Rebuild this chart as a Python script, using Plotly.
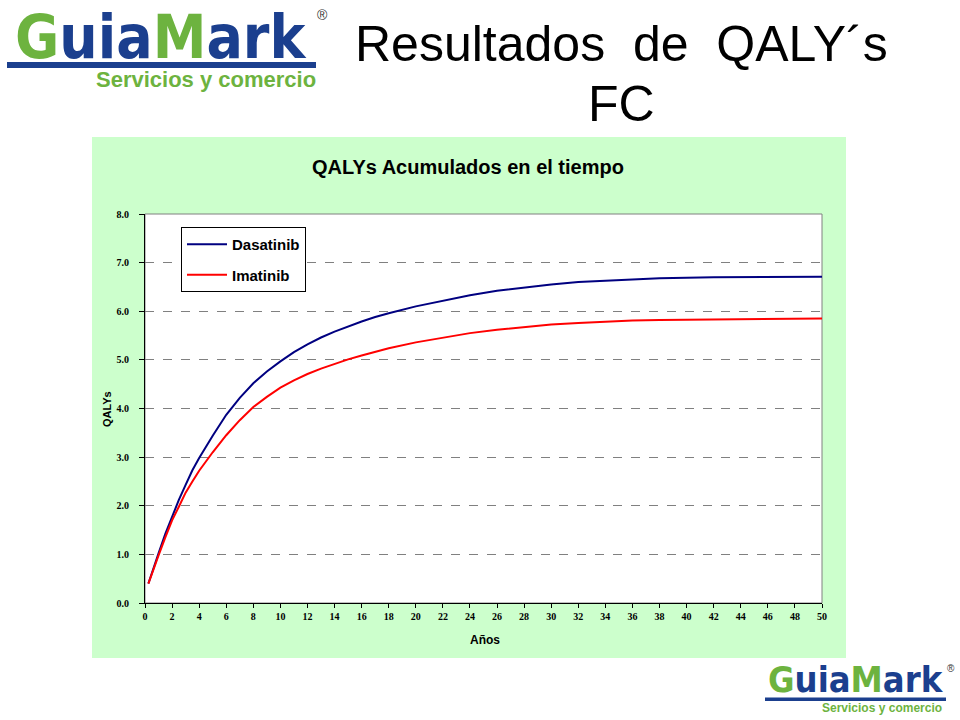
import plotly.graph_objects as go

# ---------------- data ----------------
years = [0.25, 0.5, 1, 1.5, 2, 2.5, 3, 3.5, 4, 5, 6, 7, 8, 9, 10, 11, 12, 13, 14,
         15, 16, 17, 18, 20, 22, 24, 26, 28, 30, 32, 34, 36, 38, 42, 46, 50]
dasatinib = [0.40, 0.62, 1.02, 1.42, 1.78, 2.12, 2.43, 2.73, 2.98, 3.44, 3.87,
             4.22, 4.52, 4.76, 4.97, 5.16, 5.32, 5.46, 5.58, 5.69, 5.79, 5.88,
             5.96, 6.10, 6.22, 6.33, 6.42, 6.49, 6.55, 6.60, 6.63, 6.66, 6.68,
             6.70, 6.71, 6.71]
imatinib = [0.40, 0.60, 0.98, 1.35, 1.70, 1.98, 2.27, 2.50, 2.72, 3.10, 3.45,
            3.76, 4.03, 4.24, 4.43, 4.58, 4.71, 4.82, 4.92, 5.01, 5.09, 5.17,
            5.24, 5.36, 5.46, 5.55, 5.62, 5.68, 5.73, 5.76, 5.79, 5.81, 5.82,
            5.83, 5.84, 5.85]
series_names = ["Dasatinib", "Imatinib"]
series_colors = ["#000080", "#FF0000"]
x_ticks = list(range(0, 51, 2))
y_ticks = [i * 1.0 for i in range(0, 9)]

# ---------------- layout geometry ----------------
W, H = 960, 720
L, R, T, B = 145, 822, 214, 603
PW, PH = R - L, B - T


def px(x):
    return (x - L) / PW


def py(y):
    return (B - y) / PH


fig = go.Figure()
for name, vals, col, grp in zip(series_names, [dasatinib, imatinib], series_colors, ["a", "b"]):
    fig.add_trace(go.Scatter(x=years, y=vals, mode="lines", name=name,
                             legendgroup=grp,
                             line=dict(color=col, width=2)))

G = "#6DB33F"
NB = "#1B3F8E"
LOGO_FONT = "DejaVu Sans Condensed, DejaVu Sans, sans-serif"

shapes = [
    # green chart area
    dict(type="rect", xref="paper", yref="paper", x0=px(92), x1=px(846), y0=py(658), y1=py(137),
         fillcolor="#CCFFCC", line=dict(width=0), layer="below"),
    # white plot area with gray border
    dict(type="rect", xref="paper", yref="paper", x0=0, x1=1, y0=0, y1=1,
         fillcolor="white", line=dict(color="#808080", width=1), layer="below"),
    # logo bars
    dict(type="rect", xref="paper", yref="paper", x0=px(7), x1=px(316), y0=py(68), y1=py(62),
         fillcolor=NB, line=dict(width=0)),
    dict(type="rect", xref="paper", yref="paper", x0=px(765), x1=px(946), y0=py(701), y1=py(697.5),
         fillcolor=NB, line=dict(width=0)),
]


def logo_text(color_g, color_b):
    return (f'<span style="color:{color_g}">G</span><span style="color:{color_b}">uia</span>'
            f'<span style="color:{color_g}">M</span><span style="color:{color_b}">ark</span>')


def paper_ann(x, y, text, size, color="black", weight="normal", family="Liberation Sans", **kw):
    return dict(x=px(x), y=py(y), text=text, showarrow=False, xanchor="center", yanchor="middle",
                xref="paper", yref="paper",
                font=dict(family=family, size=size, color=color, weight=weight), **kw)


ann = [
    # top-left logo
    paper_ann(160, 36.5, logo_text(G, NB), 60, weight="bold", family=LOGO_FONT),
    paper_ann(322, 15, "®", 14, color="#333333"),
    paper_ann(206, 80, "Servicios y comercio", 22, color=G, weight="bold"),
    # bottom-right logo
    paper_ann(856, 679, logo_text(G, NB), 36, weight="bold", family=LOGO_FONT),
    paper_ann(951, 668, "®", 10, color="#333333"),
    paper_ann(882, 708, "Servicios y comercio", 12, color=G, weight="bold"),
    # slide title
    paper_ann(621, 44, "Resultados\u00a0 de\u00a0 QALY´s", 50),
    paper_ann(621, 104, "FC", 50),
    # chart title
    paper_ann(468, 167, "QALYs Acumulados en el tiempo", 20, weight="bold"),
    # axis titles
    paper_ann(107, 409, "QALYs", 11, weight="bold", textangle=-90),
    paper_ann(485, 640, "Años", 12, weight="bold"),
]

fig.update_layout(
    width=W, height=H,
    margin=dict(l=L, r=W - R, t=T, b=H - B, pad=0),
    paper_bgcolor="white", plot_bgcolor="rgba(0,0,0,0)",
    showlegend=True,
    legend=dict(x=px(181), y=py(227), xanchor="left", yanchor="top",
                bgcolor="white", bordercolor="black", borderwidth=1,
                font=dict(family="Liberation Sans", size=15, color="black", weight="bold"),
                tracegroupgap=8, traceorder="grouped", itemwidth=40),
    shapes=shapes, annotations=ann,
    xaxis=dict(range=[0, 50], tickvals=x_ticks, ticktext=[str(v) for v in x_ticks],
               showgrid=False, zeroline=False, showline=True, linecolor="black", linewidth=1,
               ticks="outside", ticklen=4, tickcolor="black",
               tickfont=dict(family="Liberation Serif", size=10, color="black", weight="bold")),
    yaxis=dict(range=[0, 8], tickvals=y_ticks, tickformat=".1f",
               showgrid=True, gridcolor="#808080", griddash="dash", gridwidth=1,
               zeroline=False, showline=True, linecolor="black", linewidth=1,
               ticks="outside", ticklen=5, tickcolor="black", ticklabelstandoff=8,
               tickfont=dict(family="Liberation Serif", size=10, color="black", weight="bold")),
)

fig.write_html("out.html", config={"displayModeBar": False},
               post_script="document.body.style.margin='0';document.body.style.overflow='hidden';")
